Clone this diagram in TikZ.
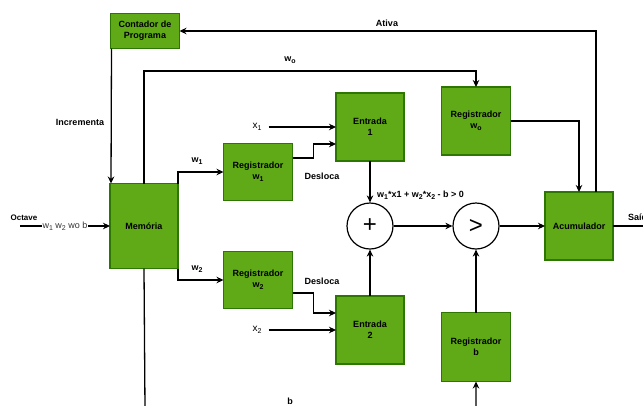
\documentclass[tikz,border=0pt]{standalone}
\usepackage{fontspec}
\setmainfont{Liberation Sans}
\usepackage{tikz}
\usetikzlibrary{positioning,arrows.meta,calc}
\definecolor{blockgreen}{HTML}{60A917}
\definecolor{blockedge}{HTML}{2D7600}
\newcommand{\lowsub}[1]{\raisebox{-0.35ex}{\fontsize{7}{7}\selectfont #1}}

\begin{document}
\begin{tikzpicture}[x=1pt,y=-1pt,
    block/.style={draw=blockedge, fill=blockgreen, line width=1.6pt, align=center,
        font=\fontsize{9}{11}\selectfont\bfseries, inner sep=0pt, outer sep=0pt},
    opnode/.style={circle, draw, line width=1.2pt, fill=white, minimum size=46pt,
        inner sep=0pt, font=\fontsize{24}{24}\selectfont},
    lbl/.style={font=\fontsize{9}{10}\selectfont\bfseries, inner sep=1pt},
    arr/.style={line width=1.3pt, -{Stealth[length=7pt,width=6.5pt]}},
    wire/.style={line width=1.3pt}]
    \useasboundingbox (0,0) rectangle (643,405);
    \clip (0,0) rectangle (643,405);
    % Blocks
    \node[block, minimum width=69, minimum height=35] (cont) at (145,31) {Contador de\\Programa};
    \node[block, minimum width=68, minimum height=85] (mem) at (144,226) {Mem\'oria};
    \node[block, minimum width=69, minimum height=57] (regw1) at (258,172) {Registrador\\w\lowsub{1}};
    \node[block, minimum width=69, minimum height=57] (regw2) at (258,280) {Registrador\\w\lowsub{2}};
    \node[block, minimum width=68, minimum height=68] (ent1) at (370,127) {Entrada\\1};
    \node[block, minimum width=68, minimum height=68] (ent2) at (370,330) {Entrada\\2};
    \node[block, minimum width=69, minimum height=68] (regwo) at (476,121) {Registrador\\w\lowsub{o}};
    \node[block, minimum width=69, minimum height=69] (regb) at (476,347) {Registrador\\b};
    \node[block, minimum width=68, minimum height=68] (acum) at (579,226) {Acumulador};
    % Sum and compare
    \node[opnode] (soma) at (370,226) {+};
    \node[opnode] (comp) at (476,226) {>};
    % Inputs
    \node[lbl, font=\fontsize{8}{9}\selectfont\bfseries] (oct) at (24,218) {Octave};
    \coordinate (octin) at (20,226);
    \node[inner sep=0pt, font=\fontsize{10}{11}\selectfont] (x1) at (257,127) {x\lowsub{1}};
    \node[inner sep=0pt, font=\fontsize{10}{11}\selectfont] (x2) at (257,330) {x\lowsub{2}};
    \coordinate (bbot) at (145,409);
    \coordinate (saida) at (660,226);
    % Control loop
    \draw[arr] ([xshift=17pt]acum.north) |- (cont.east);
    \node[lbl] at (387,23) {Ativa};
    \draw[arr] ([xshift=1pt]cont.south west) -- ([xshift=1pt]mem.north west);
    \node[lbl] at (80,122) {Incrementa};
    % Memory outputs
    \draw[arr] (mem.north) |- ([yshift=16pt]regwo.north) -- (regwo.north);
    \node[lbl] at (290,60) {w\lowsub{o}};
    \draw[arr] (mem.north east) |- (regw1.west);
    \node[lbl] at (197,161) {w\lowsub{1}};
    \draw[arr] (mem.south east) |- (regw2.west);
    \node[lbl] at (197,269) {w\lowsub{2}};
    \draw[arr] (mem.south) -- (bbot) -| (regb.south);
    \node[lbl] at (290,401) {b};
    \draw[arr] (octin) -- node[fill=white, inner sep=1pt, font=\fontsize{9}{10}\selectfont, text=black!80]
        {w\lowsub{1} w\lowsub{2} wo b} (mem.west);
    % Shift into inputs
    \draw[arr] ([yshift=14pt]regw1.east) -- ++(21,0) |- ([yshift=-17pt]ent1.west);
    \node[lbl] at (322,176) {Desloca};
    \draw[arr] ([yshift=-13pt]regw2.east) -- ++(21,0) |- ([yshift=17pt]ent2.west);
    \node[lbl] at (322,281) {Desloca};
    \draw[arr] ([xshift=7pt]x1.east) -- (ent1.west);
    \draw[arr] ([xshift=7pt]x2.east) -- (ent2.west);
    % Datapath
    \draw[arr] (ent1.south) -- (soma.north);
    \node[lbl, anchor=west] at (376,195) {w\lowsub{1}*x1 + w\lowsub{2}*x\lowsub{2} - b > 0};
    \draw[arr] (ent2.north) -- (soma.south);
    \draw[arr] (soma.east) -- (comp.west);
    \draw[arr] (regb.north) -- (comp.south);
    \draw[arr] (comp.east) -- (acum.west);
    \draw[arr] (regwo.east) -| (acum.north);
    \draw[wire] (acum.east) -- (saida);
    \node[lbl, anchor=west] at (627,217) {Sa\'ida};
\end{tikzpicture}
\end{document}
